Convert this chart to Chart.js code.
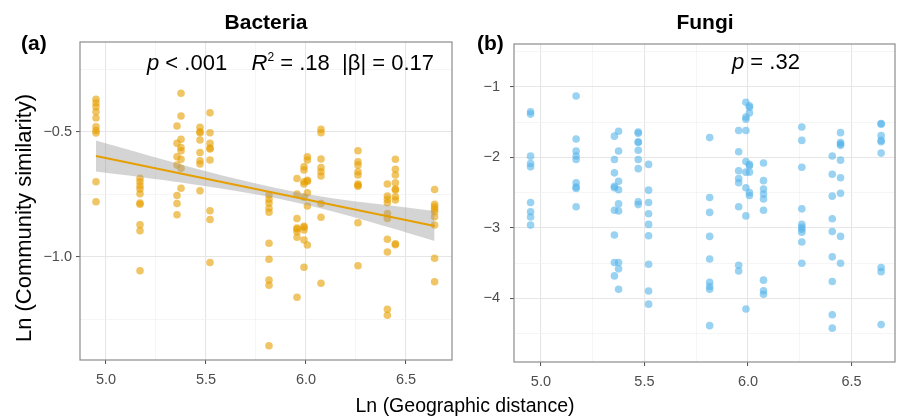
<!DOCTYPE html>
<html><head><meta charset="utf-8">
<script src="https://cdn.jsdelivr.net/npm/chart.js@4.4.1/dist/chart.umd.min.js"></script>
<style>
html,body{margin:0;padding:0;background:#fff;}
#wrap{position:relative;width:900px;height:418px;background:#fff;}
canvas{position:absolute;left:0;top:0;}
</style></head><body>
<div id="wrap"><canvas id="c1" width="900" height="418"></canvas><canvas id="c2" width="900" height="418"></canvas></div>
<script>
// ---- data ----
const distances = [4.95, 5.17, 5.355, 5.375, 5.47, 5.52, 5.815, 5.955, 5.99, 6.007, 6.075, 6.26, 6.407, 6.447, 6.643];
const bacteria = [
  [-0.37, -0.385, -0.40, -0.42, -0.445, -0.48, -0.495, -0.505, -0.70, -0.78],
  [-0.686, -0.70, -0.716, -0.729, -0.748, -0.785, -0.79, -0.872, -0.896, -1.056],
  [-0.477, -0.546, -0.60, -0.633, -0.755, -0.787, -0.832],
  [-0.346, -0.437, -0.53, -0.563, -0.576, -0.61, -0.646, -0.726],
  [-0.482, -0.50, -0.504, -0.533, -0.583, -0.616, -0.629, -0.736],
  [-0.424, -0.504, -0.546, -0.565, -0.569, -0.613, -0.816, -0.851, -1.023],
  [-0.753, -0.77, -0.785, -0.806, -0.822, -0.946, -1.01, -1.093, -1.114, -1.356],
  [-0.687, -0.749, -0.847, -0.885, -0.889, -0.90, -0.922, -1.162],
  [-0.64, -0.653, -0.70, -0.709, -0.762, -0.878, -0.882, -0.893, -0.933, -1.042],
  [-0.60, -0.613, -0.694, -0.698, -0.744, -0.797, -0.953],
  [-0.49, -0.504, -0.609, -0.643, -0.66, -0.677, -0.787, -0.842, -1.106],
  [-0.576, -0.62, -0.633, -0.66, -0.673, -0.709, -0.714, -0.718, -0.864, -1.036],
  [-0.709, -0.757, -0.77, -0.784, -0.827, -0.847, -0.93, -0.981, -1.21, -1.234],
  [-0.61, -0.65, -0.673, -0.704, -0.729, -0.733, -0.76, -0.773, -0.948, -0.952],
  [-0.731, -0.79, -0.80, -0.81, -0.82, -0.84, -0.873, -1.006, -1.10]
];
const fungi = [
  [-1.355, -1.387, -1.983, -2.087, -2.135, -2.64, -2.77, -2.845, -2.96],
  [-1.13, -1.74, -1.91, -1.98, -2.03, -2.36, -2.42, -2.44, -2.70],
  [-1.70, -2.03, -2.22, -2.41, -2.43, -2.75, -3.10, -3.49, -3.68],
  [-1.63, -1.91, -2.34, -2.46, -2.66, -2.76, -3.49, -3.58, -3.87],
  [-1.64, -1.66, -1.78, -1.79, -1.90, -2.03, -2.16, -2.63, -2.67],
  [-2.10, -2.465, -2.64, -2.80, -2.95, -3.11, -3.515, -3.895, -4.08],
  [-1.72, -2.57, -2.78, -3.12, -3.44, -3.77, -3.83, -3.87, -4.385],
  [-1.62, -1.92, -2.19, -2.30, -2.36, -2.70, -3.53, -3.61],
  [-1.22, -1.43, -1.46, -1.62, -2.06, -2.21, -2.43, -2.83, -4.15],
  [-1.27, -1.29, -1.37, -2.10, -2.12, -2.21, -2.50, -2.54],
  [-2.08, -2.33, -2.45, -2.52, -2.59, -2.75, -3.74, -3.89, -3.94],
  [-1.57, -1.76, -2.14, -2.73, -2.95, -2.99, -3.02, -3.06, -3.20, -3.50],
  [-1.98, -2.24, -2.55, -2.87, -3.05, -3.41, -3.76, -4.23, -4.42],
  [-1.65, -1.79, -1.81, -1.83, -2.04, -2.29, -2.51, -3.12, -3.50],
  [-1.52, -1.53, -1.69, -1.76, -1.78, -1.94, -3.56, -3.62, -4.37]
];
// fitted line and confidence band (bacteria)
const fitX = [4.95, 6.643];
const fitY = [-0.597, -0.877];
const bandX = [4.95, 5.17, 5.5, 5.8, 6.1, 6.4, 6.643];
const bandLow = [-0.659, -0.681, -0.718, -0.758, -0.812, -0.879, -0.937];
const bandHigh = [-0.535, -0.585, -0.658, -0.716, -0.762, -0.793, -0.817];
// ticks
const xMajor = [5.0, 5.5, 6.0, 6.5];
const xTickLabels = ['5.0', '5.5', '6.0', '6.5'];
const xMinor = [5.25, 5.75, 6.25];
const yMajorA = [-0.5, -1.0];
const yTickLabelsA = ['\u22120.5', '\u22121.0'];
const yMinorA = [-0.25, -0.75, -1.25];
const yMajorB = [-1, -2, -3, -4];
const yTickLabelsB = ['\u22121', '\u22122', '\u22123', '\u22124'];
const yMinorB = [-0.5, -1.5, -2.5, -3.5, -4.5];

// ---- helpers ----
const FONT = '"Liberation Sans", Arial, sans-serif';
function pts(ys) {
  const out = [];
  distances.forEach((d, i) => ys[i].forEach(v => out.push({x: d, y: v})));
  return out;
}
function xy(xs, ys) { return xs.map((x, i) => ({x: x, y: ys[i]})); }

function axis(min, max, major, labels, minor, fitDim, fitVal, pad) {
  return {
    type: 'linear', min: min, max: max,
    afterBuildTicks: s => {
      s.ticks = major.concat(minor).filter(v => v >= min && v <= max)
        .sort((a, b) => a - b).map(v => ({value: v}));
    },
    afterFit: s => { s[fitDim] = fitVal; },
    border: {display: false},
    grid: {
      color: c => (c.tick && major.includes(c.tick.value)) ? '#e6e6e6' : '#f1f1f1',
      lineWidth: c => (c.tick && major.includes(c.tick.value)) ? 1.1 : 0.7,
      tickColor: c => (c.tick && major.includes(c.tick.value)) ? '#4d4d4d' : 'rgba(0,0,0,0)',
      tickLength: 4, tickWidth: 1, drawTicks: true
    },
    ticks: {
      autoSkip: false, maxRotation: 0, minRotation: 0, padding: pad,
      color: '#4d4d4d', font: {family: FONT, size: 14.5},
      callback: v => { const i = major.indexOf(v); return i >= 0 ? labels[i] : ''; }
    }
  };
}

function textPlugin(items) {
  return {
    id: 'texts',
    afterDraw(chart) {
      const ctx = chart.ctx;
      const a = chart.chartArea;
      ctx.save();
      ctx.strokeStyle = '#8c8c8c';
      ctx.lineWidth = 1.2;
      ctx.strokeRect(a.left, a.top, a.right - a.left, a.bottom - a.top);
      ctx.restore();
      items.forEach(it => {
        ctx.save();
        ctx.fillStyle = it.color || '#000';
        ctx.textBaseline = 'alphabetic';
        if (it.rotate) {
          ctx.translate(it.x, it.y);
          ctx.rotate(-Math.PI / 2);
          ctx.font = it.font;
          ctx.textAlign = 'center';
          ctx.fillText(it.text, 0, 0);
        } else if (it.segs) {
          let x = it.x;
          it.segs.forEach(sg => {
            ctx.font = sg.font;
            ctx.textAlign = 'left';
            ctx.fillText(sg.t, x, it.y - (sg.rise || 0));
            x += ctx.measureText(sg.t).width;
          });
        } else {
          ctx.font = it.font;
          ctx.textAlign = it.align || 'left';
          ctx.fillText(it.text, it.x, it.y);
        }
        ctx.restore();
      });
    }
  };
}

const common = {
  responsive: false, animation: false, devicePixelRatio: 1,
  plugins: {legend: {display: false}, tooltip: {enabled: false}},
  events: []
};

// ---- Bacteria ----
new Chart(document.getElementById('c1'), {
  type: 'scatter',
  data: {
    datasets: [
      {type: 'line', data: xy(fitX, fitY), borderColor: '#E69F00', borderWidth: 2.2,
       pointRadius: 0, fill: false, order: 0},
      {type: 'line', data: xy(bandX, bandLow), borderWidth: 0, borderColor: 'rgba(0,0,0,0)',
       pointRadius: 0, fill: false, tension: 0.35, order: 1},
      {type: 'line', data: xy(bandX, bandHigh), borderWidth: 0, borderColor: 'rgba(0,0,0,0)',
       pointRadius: 0, fill: 1, backgroundColor: 'rgba(153,153,153,0.42)', tension: 0.35, order: 1},
      {data: pts(bacteria), backgroundColor: 'rgba(230,159,0,0.6)', borderWidth: 0,
       pointRadius: 3.8, order: 3}
    ]
  },
  options: Object.assign({}, common, {
    layout: {padding: {left: 0, right: 448, top: 42, bottom: 0}},
    scales: {
      x: axis(4.87, 6.73, xMajor, xTickLabels, xMinor, 'height', 58, 7),
      y: axis(-1.413, -0.141, yMajorA, yTickLabelsA, yMinorA, 'width', 80, 4)
    }
  }),
  plugins: [textPlugin([
    {text: '(a)', x: 21, y: 50, font: 'bold 21px ' + FONT},
    {text: 'Bacteria', x: 266, y: 29, align: 'center', font: 'bold 21px ' + FONT},
    {x: 147, y: 70, segs: [
      {t: 'p', font: 'italic 22px ' + FONT},
      {t: ' < .001    ', font: '22px ' + FONT},
      {t: 'R', font: 'italic 22px ' + FONT},
      {t: '2', font: '12px ' + FONT, rise: 9},
      {t: ' = .18  |\u03b2| = 0.17', font: '22px ' + FONT}
    ]},
    {text: 'Ln (Community similarity)', x: 31, y: 218, rotate: true, font: '22px ' + FONT},
    {text: 'Ln (Geographic distance)', x: 465, y: 412, align: 'center', font: '19.5px ' + FONT}
  ])]
});

// ---- Fungi ----
new Chart(document.getElementById('c2'), {
  type: 'scatter',
  data: {
    datasets: [
      {data: pts(fungi), backgroundColor: 'rgba(86,180,233,0.6)', borderWidth: 0, pointRadius: 3.8}
    ]
  },
  options: Object.assign({}, common, {
    layout: {padding: {left: 460, right: 5, top: 44, bottom: 0}},
    scales: {
      x: axis(4.87, 6.71, xMajor, xTickLabels, xMinor, 'height', 56, 7),
      y: axis(-4.90, -0.394, yMajorB, yTickLabelsB, yMinorB, 'width', 54, 10)
    }
  }),
  plugins: [textPlugin([
    {text: '(b)', x: 477, y: 50, font: 'bold 21px ' + FONT},
    {text: 'Fungi', x: 705, y: 29, align: 'center', font: 'bold 21px ' + FONT},
    {x: 732, y: 69, segs: [
      {t: 'p', font: 'italic 22px ' + FONT},
      {t: ' = .32', font: '22px ' + FONT}
    ]}
  ])]
});
</script>
</body></html>
